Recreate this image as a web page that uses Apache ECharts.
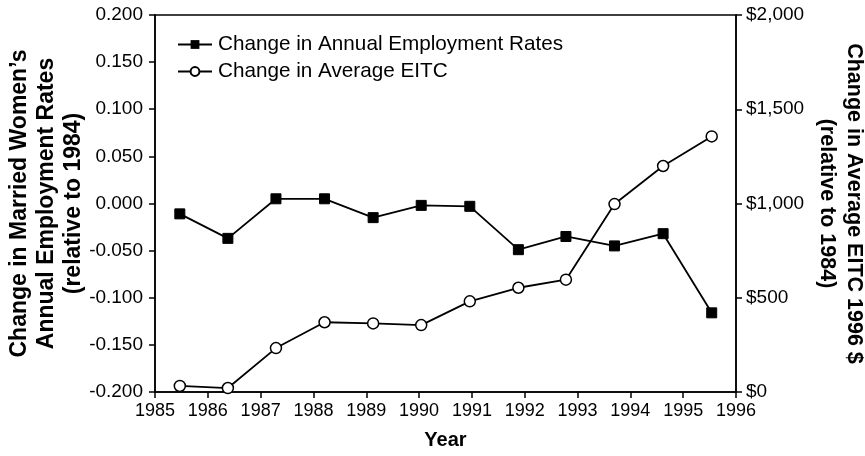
<!DOCTYPE html>
<html>
<head>
<meta charset="utf-8">
<script src="https://cdn.jsdelivr.net/npm/echarts@6/dist/echarts.min.js"></script>
<style>
  html, body { margin: 0; padding: 0; background: #fff; }
  #chart { width: 865px; height: 456px; }
</style>
</head>
<body>
<div id="chart"></div>
<script>
// x positions of the 12 observations (years)
const years = [1985.47, 1986.38, 1987.29, 1988.21, 1989.13, 1990.04, 1990.96, 1991.88, 1992.78, 1993.70, 1994.62, 1995.54]
// change in annual employment rates (left axis)
const employment = [-0.011, -0.037, 0.005, 0.005, -0.015, -0.002, -0.003, -0.049, -0.035, -0.045, -0.032, -0.116]
// change in average EITC, 1996 $ (right axis)
const eitc = [32, 21, 233, 370, 364, 355, 481, 553, 596, 997, 1199, 1356]

const font = 'Liberation Sans'
const chart = echarts.init(document.getElementById('chart'))

function pairs(xs, ys) {
  return xs.map((x, i) => [x, ys[i]])
}

chart.setOption({
  backgroundColor: '#fff',
  animation: false,
  textStyle: { fontFamily: font, color: '#000' },
  grid: {
    left: 155,
    right: 129,
    top: 15,
    bottom: 64,
    containLabel: false,
    outerBoundsMode: 'none',
    show: true,
    borderColor: '#000',
    borderWidth: 1.5,
    backgroundColor: 'transparent'
  },
  legend: {
    left: 172,
    top: 29,
    orient: 'vertical',
    itemWidth: 34,
    itemHeight: 11,
    itemGap: 6,
    textStyle: { fontFamily: font, fontSize: 20.7, color: '#000', padding: [0, 0, 0, 1] },
    data: ['Change in Annual Employment Rates', 'Change in Average EITC']
  },
  xAxis: {
    type: 'value',
    min: 1985,
    max: 1996,
    interval: 1,
    name: 'Year',
    nameLocation: 'middle',
    nameGap: 38,
    nameMoveOverlap: false,
    nameTextStyle: { fontFamily: font, fontSize: 20, fontWeight: 'bold', color: '#000' },
    axisLine: { onZero: false, lineStyle: { color: '#000', width: 1.5 } },
    axisTick: { length: 6, lineStyle: { color: '#000', width: 1.5 } },
    axisLabel: { fontFamily: font, fontSize: 18, color: '#000', margin: 10, formatter: v => String(v) },
    splitLine: { show: false }
  },
  yAxis: [
    {
      type: 'value',
      min: -0.2,
      max: 0.2,
      interval: 0.05,
      name: "Change in Married Women\u2019s\nAnnual Employment Rates\n(relative to 1984)",
      nameLocation: 'middle',
      nameRotate: 90,
      nameGap: 68,
      nameMoveOverlap: false,
      nameTextStyle: { fontFamily: font, fontSize: 23, fontWeight: 'bold', color: '#000', lineHeight: 27 },
      axisLine: { show: true, onZero: false, lineStyle: { color: '#000', width: 1.5 } },
      axisTick: { show: true, length: 6, lineStyle: { color: '#000', width: 1.5 } },
      axisLabel: {
        fontFamily: font, fontSize: 19, color: '#000', margin: 12,
        formatter: v => v.toFixed(3)
      },
      splitLine: { show: false }
    },
    {
      type: 'value',
      min: 0,
      max: 2000,
      interval: 500,
      name: 'Change in Average EITC 1996 $\n(relative to 1984)',
      nameLocation: 'middle',
      nameRotate: -90,
      nameGap: 77,
      nameMoveOverlap: false,
      nameTextStyle: { fontFamily: font, fontSize: 21.5, fontWeight: 'bold', color: '#000', lineHeight: 27 },
      axisLine: { show: true, onZero: false, lineStyle: { color: '#000', width: 1.5 } },
      axisTick: { show: true, length: 6, lineStyle: { color: '#000', width: 1.5 } },
      axisLabel: {
        fontFamily: font, fontSize: 19, color: '#000', margin: 10,
        formatter: v => '$' + v.toLocaleString('en-US')
      },
      splitLine: { show: false }
    }
  ],
  series: [
    {
      name: 'Change in Annual Employment Rates',
      type: 'line',
      yAxisIndex: 0,
      symbol: 'rect',
      symbolSize: 10,
      lineStyle: { color: '#000', width: 1.8 },
      itemStyle: { color: '#000', borderColor: '#000' },
      data: pairs(years, employment)
    },
    {
      name: 'Change in Average EITC',
      type: 'line',
      yAxisIndex: 1,
      symbol: 'circle',
      symbolSize: 11,
      showAllSymbol: true,
      lineStyle: { color: '#000', width: 1.8 },
      itemStyle: { color: '#fff', borderColor: '#000', borderWidth: 1.5 },
      data: pairs(years, eitc)
    }
  ]
})
</script>
</body>
</html>
